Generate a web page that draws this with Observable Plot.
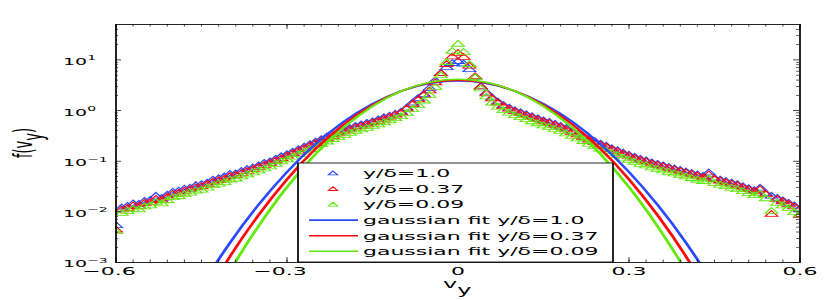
<!DOCTYPE html>
<html><head><meta charset="utf-8">
<script src="https://cdn.jsdelivr.net/npm/d3@7"></script>
<script src="https://cdn.jsdelivr.net/npm/@observablehq/plot@0.6"></script>
<style>body{margin:0;background:#fff}</style>
</head><body><div id="chart"></div><script>
// ---- data ----
const vyGrid = d3.range(-60, 61).map(i => i / 100);   // v_y sample positions
const seriesLabels = ["y/δ=1.0", "y/δ=0.37", "y/δ=0.09"];
const fitLabels = ["gaussian fit y/δ=1.0", "gaussian fit y/δ=0.37", "gaussian fit y/δ=0.09"];
const seriesColors = ["#2a48ff", "#ff0a0a", "#62e80a"];
// log10 of f(v_y)
const log10Blue = [
 -2.26,-1.91,-1.88,-1.83,-1.84,-1.78,-1.76,-1.68,-1.72,-1.66,
 -1.60,-1.58,-1.54,-1.52,-1.47,-1.45,-1.42,-1.36,-1.33,-1.30,
 -1.25,-1.24,-1.19,-1.15,-1.12,-1.08,-1.03,-1.00,-0.95,-0.90,
 -0.86,-0.81,-0.76,-0.71,-0.66,-0.61,-0.56,-0.51,-0.46,-0.42,
 -0.37,-0.34,-0.30,-0.27,-0.24,-0.21,-0.17,-0.13,-0.10,-0.06,
 -0.02, 0.06, 0.16, 0.25, 0.33, 0.45, 0.60, 0.74, 0.86, 0.94,
  0.98,
  0.93, 0.82, 0.66, 0.48, 0.36, 0.26, 0.18, 0.11, 0.06, 0.01,
 -0.03,-0.07,-0.11,-0.15,-0.19,-0.22,-0.26,-0.30,-0.34,-0.40,
 -0.45,-0.50,-0.55,-0.60,-0.65,-0.69,-0.74,-0.78,-0.83,-0.87,
 -0.91,-0.95,-0.98,-1.02,-1.05,-1.08,-1.11,-1.14,-1.17,-1.20,
 -1.23,-1.26,-1.29,-1.22,-1.33,-1.36,-1.39,-1.42,-1.45,-1.49,
 -1.53,-1.57,-1.52,-1.63,-1.68,-1.72,-1.77,-1.82,-1.87,-1.93];
const log10Red = [
 -2.35,-1.95,-1.92,-1.87,-1.88,-1.82,-1.80,-1.74,-1.76,-1.70,
 -1.64,-1.62,-1.58,-1.55,-1.51,-1.49,-1.45,-1.40,-1.37,-1.34,
 -1.29,-1.27,-1.23,-1.19,-1.15,-1.11,-1.07,-1.03,-0.98,-0.94,
 -0.89,-0.84,-0.79,-0.74,-0.69,-0.64,-0.59,-0.54,-0.50,-0.45,
 -0.41,-0.37,-0.33,-0.30,-0.27,-0.23,-0.20,-0.16,-0.12,-0.08,
 -0.04, 0.04, 0.13, 0.22, 0.31, 0.40, 0.56, 0.74, 0.92, 1.07,
  1.14,
  1.06, 0.89, 0.68, 0.48, 0.34, 0.24, 0.16, 0.09, 0.04,-0.01,
 -0.05,-0.09,-0.13,-0.17,-0.21,-0.24,-0.28,-0.32,-0.37,-0.42,
 -0.47,-0.52,-0.57,-0.62,-0.67,-0.71,-0.76,-0.80,-0.85,-0.89,
 -0.93,-0.97,-1.00,-1.04,-1.07,-1.10,-1.13,-1.16,-1.19,-1.22,
 -1.25,-1.28,-1.31,-1.26,-1.35,-1.38,-1.41,-1.44,-1.47,-1.51,
 -1.55,-1.59,-1.55,-1.65,-2.04,-1.74,-1.79,-1.84,-1.89,-2.06];
const log10Green = [
 -2.38,-2.02,-1.98,-1.94,-1.95,-1.89,-1.87,-1.80,-1.83,-1.77,
 -1.71,-1.69,-1.65,-1.62,-1.58,-1.56,-1.52,-1.47,-1.44,-1.41,
 -1.36,-1.34,-1.30,-1.26,-1.22,-1.18,-1.14,-1.10,-1.05,-1.00,
 -0.96,-0.91,-0.86,-0.81,-0.76,-0.71,-0.66,-0.61,-0.56,-0.52,
 -0.48,-0.44,-0.40,-0.37,-0.34,-0.30,-0.27,-0.23,-0.19,-0.15,
 -0.11,-0.05, 0.03, 0.11, 0.20, 0.31, 0.47, 0.70, 0.96, 1.18,
  1.32,
  1.16, 0.92, 0.66, 0.44, 0.28, 0.16, 0.08, 0.01,-0.04,-0.09,
 -0.13,-0.17,-0.21,-0.25,-0.29,-0.32,-0.36,-0.40,-0.45,-0.50,
 -0.55,-0.60,-0.65,-0.70,-0.75,-0.79,-0.84,-0.88,-0.93,-0.97,
 -1.01,-1.05,-1.08,-1.12,-1.15,-1.18,-1.21,-1.24,-1.27,-1.30,
 -1.33,-1.36,-1.39,-1.34,-1.43,-1.46,-1.49,-1.52,-1.55,-1.59,
 -1.63,-1.67,-1.64,-1.73,-1.98,-1.82,-1.87,-1.92,-2.00,-2.04];
// gaussian fits
const fitVy = [-0.45,-0.40,-0.35,-0.30,-0.25,-0.20,-0.15,-0.10,-0.05,0,0.05,0.10,0.15,0.20,0.25,0.30,0.35,0.40,0.45];
const fitBlue  = [0.000350,0.002463,0.01378,0.0613,0.2167,0.609,1.360,2.414,3.406,3.82,3.406,2.414,1.360,0.609,0.2167,0.0613,0.01378,0.002463,0.000350];
const fitRed   = [0.000157,0.001317,0.00861,0.0439,0.1742,0.538,1.292,2.418,3.520,3.99,3.520,2.418,1.292,0.538,0.1742,0.0439,0.00861,0.001317,0.000157];
const fitGreen = [0.0000666,0.000676,0.00522,0.03076,0.1378,0.470,1.220,2.412,3.630,4.16,3.630,2.412,1.220,0.470,0.1378,0.03076,0.00522,0.000676,0.0000666];
// axes
const xTicks = [-0.6, -0.3, 0, 0.3, 0.6];
const xTickLabels = ["\u22120.6", "\u22120.3", "0", "0.3", "0.6"];
const xMinorTicks = d3.range(-20, 21).map(i => i * 0.03);
const yTicks = [1e-3, 1e-2, 1e-1, 1, 10];
const yTickExponents = ["\u22123", "\u22122", "\u22121", "0", "1"];
const yMinorTicks = [-3, -2, -1, 0, 1].flatMap(e => [2,3,4,5,6,7,8,9].map(k => k * 10 ** e)).filter(v => v < 50);

// ---- layout (the figure is stretched horizontally x2) ----
const W = 415, H = 300, STRETCH = 2;
const mL = 57.5, mR = 15.5, mT = 24, mB = 38;
const fw = W - mL - mR, fh = H - mT - mB;

const rows = logs => vyGrid.map((v, i) => ({vy: v, f: 10 ** logs[i]}));
const fitRows = fs => fitVy.map((v, i) => ({vy: v, f: fs[i]}));
const tri = {draw(ctx, size) { const r = Math.sqrt(size / Math.PI);
  ctx.moveTo(0, -r); ctx.lineTo(r, r * 0.8); ctx.lineTo(-r, r * 0.8); ctx.closePath(); }};

const dataLogs = [log10Blue, log10Red, log10Green];
const fits = [fitBlue, fitRed, fitGreen];
const chart = Plot.plot({
  width: W, height: H, marginLeft: mL, marginRight: mR, marginTop: mT, marginBottom: mB,
  style: {fontFamily: "DejaVu Sans", fontSize: "11px", background: "white", color: "black"},
  x: {domain: [-0.6, 0.6], axis: null},
  y: {type: "log", domain: [1e-3, 50], axis: null},
  marks: [
    ...dataLogs.map((l, i) => Plot.dot(rows(l), {x: "vy", y: "f", symbol: tri, r: 3.2, fill: "none",
        stroke: seriesColors[i], strokeWidth: 0.8, clip: true})),
    ...fits.map((f, i) => Plot.line(fitRows(f), {x: "vy", y: "f", curve: "natural",
        stroke: seriesColors[i], strokeWidth: 1.6, clip: true})),
    Plot.ruleX(xMinorTicks, {x: d => d, insetTop: fh - 2.5, stroke: "#000", strokeWidth: 0.5}),
    Plot.ruleX(xMinorTicks, {x: d => d, insetBottom: fh - 2.5, stroke: "#000", strokeWidth: 0.5}),
    Plot.ruleX(xTicks, {x: d => d, insetTop: fh - 5, stroke: "#000", strokeWidth: 0.5}),
    Plot.ruleX(xTicks, {x: d => d, insetBottom: fh - 5, stroke: "#000", strokeWidth: 0.5}),
    Plot.ruleY(yMinorTicks, {y: d => d, insetRight: fw - 1.5, stroke: "#000", strokeWidth: 0.6}),
    Plot.ruleY(yMinorTicks, {y: d => d, insetLeft: fw - 1.5, stroke: "#000", strokeWidth: 0.6}),
    Plot.ruleY(yTicks, {y: d => d, insetRight: fw - 3, stroke: "#000", strokeWidth: 0.7}),
    Plot.ruleY(yTicks, {y: d => d, insetLeft: fw - 3, stroke: "#000", strokeWidth: 0.7}),
    Plot.text(xTicks.filter(d => d < 0), {x: d => d, text: d => xTickLabels[xTicks.indexOf(d)],
        frameAnchor: "bottom", dy: 12, dx: -3.5, fontSize: 11}),
    Plot.text(xTicks.filter(d => d >= 0), {x: d => d, text: d => xTickLabels[xTicks.indexOf(d)],
        frameAnchor: "bottom", dy: 12, fontSize: 11}),
    Plot.frame({stroke: "#000", strokeWidth: 0.85})
  ]
});

const svg = d3.select(chart);
const ys = chart.scale("y"), xs = chart.scale("x");
const ff = "DejaVu Sans";
// y tick labels 10^n
const gy = svg.append("g").attr("font-family", ff).attr("fill", "#000").attr("text-anchor", "start");
yTicks.forEach((t, i) => {
  const tx = gy.append("text").attr("x", mL - 26).attr("y", ys.apply(t) + 5.5).attr("font-size", 9.5).text("10");
  tx.append("tspan").attr("dy", -4.5).attr("font-size", 7).text(yTickExponents[i]);
});
// x label v_y
const xl = svg.append("text").attr("font-family", ff).attr("font-size", 12).attr("text-anchor", "start")
  .attr("x", xs.apply(0) - 7).attr("y", 288).text("v");
xl.append("tspan").attr("dy", 5.6).text("y");
// y label f(v_y)
const yl = svg.append("text").attr("font-family", ff).attr("font-size", 13).attr("text-anchor", "middle")
  .attr("transform", `translate(16,${mT + fh / 2}) rotate(-90)`).text("f(v");
yl.append("tspan").attr("dy", 5).text("y");
yl.append("tspan").attr("dy", -5).text(")");
// legend
const lg = svg.append("g").attr("font-family", ff).attr("font-size", 11).attr("text-anchor", "start");
lg.append("rect").attr("x", 149).attr("y", 163).attr("width", 157.5).attr("height", H - mB - 163)
  .attr("fill", "white").attr("stroke", "#000").attr("stroke-width", 0.85);
const labels = [...seriesLabels, ...fitLabels];
labels.forEach((lab, i) => {
  const yy = 173.3 + 15.6 * i, c = seriesColors[i % 3];
  if (i < 3) lg.append("path").attr("d", `M166.5,${yy - 2.2}L168.8,${yy + 1.6}L164.2,${yy + 1.6}Z`)
      .attr("fill", "none").attr("stroke", c).attr("stroke-width", 0.8);
  else lg.append("line").attr("x1", 154.5).attr("x2", 179).attr("y1", yy).attr("y2", yy)
      .attr("stroke", c).attr("stroke-width", 1.6);
  lg.append("text").attr("x", 181.5).attr("y", yy + 4).text(lab);
});
// stretch horizontally like the reference figure
chart.setAttribute("viewBox", `0 0 ${W} ${H}`);
chart.setAttribute("width", W * STRETCH);
chart.setAttribute("height", H);
chart.setAttribute("preserveAspectRatio", "none");
chart.style.maxWidth = "none";
chart.style.height = H + "px";
chart.style.width = (W * STRETCH) + "px";
document.getElementById("chart").appendChild(chart);
</script></body></html>
